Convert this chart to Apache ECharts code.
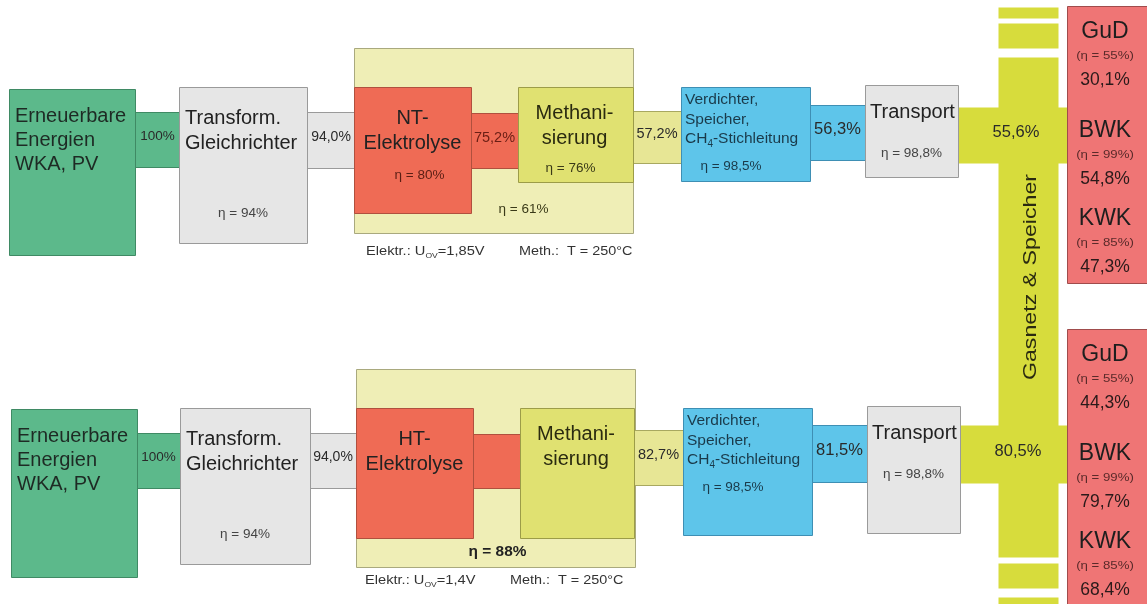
<!DOCTYPE html>
<html><head><meta charset="utf-8">
<script src="https://cdn.jsdelivr.net/npm/echarts@6/dist/echarts.min.js"></script>
<style>html,body{margin:0;padding:0;background:#fff}#c{width:1147px;height:604px}</style>
</head><body><div id="c"></div>
<script>
// ---------------- DATA ----------------
const stageNamesTop = ['Erneuerbare\nEnergien\nWKA, PV', 'Transform.\nGleichrichter', 'NT-\nElektrolyse', 'Methani-\nsierung', 'Verdichter,\nSpeicher,\nCH4-Stichleitung', 'Transport'];
const stageNamesBottom = ['Erneuerbare\nEnergien\nWKA, PV', 'Transform.\nGleichrichter', 'HT-\nElektrolyse', 'Methani-\nsierung', 'Verdichter,\nSpeicher,\nCH4-Stichleitung', 'Transport'];
const etaTop = [null, 94, 80, 76, 98.5, 98.8];
const etaBottom = [null, 94, null, null, 98.5, 98.8];
const flowTop = [100, 94.0, 75.2, 57.2, 56.3, 55.6];
const flowBottom = [100, 94.0, null, 82.7, 81.5, 80.5];
const combinedEta = [61, 88];
const condElektr = ['1,85V', '1,4V'];
const condMeth = ['250°C', '250°C'];
const storageLabel = 'Gasnetz & Speicher';
const useNames = ['GuD', 'BWK', 'KWK'];
const useEta = [55, 99, 85];
const useTop = [30.1, 54.8, 47.3];
const useBottom = [44.3, 79.7, 68.4];

// ---------------- LAYOUT (diagram geometry, px units on hidden axes) ----------------
const rows = [
  { boxes: [[9,89,135,255],[179,87,307,243],[354,87,471,213],[518,87,633,182],[681,87,810,181],[865,85,958,177]],
    conns: [[135,112,180,167],[307,112,355,168],[471,113,518,168],[633,111,681,163],[810,105,865,160],[958,107,1067,163]],
    outer: [354,48,633,233], use: [1067,6,1152,283], etaOff: -24,
    condX: [366, 519], condY: 252, flowX5: 1016 },
  { boxes: [[11,409,137,577],[180,408,310,564],[356,408,473,538],[520,408,634,538],[683,408,812,535],[867,406,960,533]],
    conns: [[137,433,180,488],[310,433,356,488],[473,434,520,488],[634,430,683,485],[812,425,867,482],[960,425,1067,483]],
    outer: [356,369,635,567], use: [1067,329,1152,612], etaOff: -15,
    condX: [365, 510], condY: 581, flowX5: 1018 }
];
const gasColumn = [[998,57,1058,557],[998,7,1058,18],[998,23,1058,48],[998,563,1058,588],[998,597,1058,612]];

// ---------------- STYLE ----------------
const FONT = '"Liberation Sans", Arial, Helvetica, sans-serif';
const stageFill = ['#5cb98b','#e6e6e6','#ef6b55','#e0e171','#5ec5ea','#e6e6e6'];
const stageStroke = ['#3f8a64','#9a9a9a','#b0503e','#9c9c48','#3e8fb4','#9a9a9a'];
const connFill = ['#5cb98b','#e6e6e6','#ef6b55','#e7e695','#5ec5ea','#d7dc3c'];
const connStroke = ['#3f8a64','#9a9a9a','#b0503e','#a8a860','#3e8fb4',null];
const gasFill = '#d7dc3c';
const useFill = '#ef7575', useStroke = '#a04c4c';
const outerFill = '#efeeb6', outerStroke = '#a9a97e';

function fmt(v) { return v === 100 ? '100%' : v.toFixed(1).replace('.', ',') + '%'; }

// ---------------- BUILD ITEMS ----------------
const rectItems = [];
const textItems = [];
function R(r, fill, stroke) { rectItems.push({ value: r.slice(), fill, stroke }); }
function T(x, y, text, o) { textItems.push({ value: [x, y], spec: Object.assign({ text, size: 13, color: '#222', align: 'center', weight: 'normal', sx: 1 }, o || {}) }); }

rows.forEach(row => R(row.outer, outerFill, outerStroke));
rows.forEach(row => row.conns.forEach((c, i) => R(c, connFill[i], connStroke[i])));
gasColumn.forEach(g => R(g, gasFill, null));
rows.forEach(row => row.boxes.forEach((b, i) => R(b, stageFill[i], stageStroke[i])));
rows.forEach(row => R(row.use, useFill, useStroke));

const ETA = 13.5;
rows.forEach((row, ri) => {
  const names = ri === 0 ? stageNamesTop : stageNamesBottom;
  const etas = ri === 0 ? etaTop : etaBottom;
  const flows = ri === 0 ? flowTop : flowBottom;
  const uses = ri === 0 ? useTop : useBottom;
  const B = row.boxes;
  const cx = b => (b[0] + b[2]) / 2;
  T(B[0][0] + 6, B[0][1] + 27, names[0], { size: 20, align: 'left', lh: 24, color: '#1e2a24' });
  T(B[1][0] + 6, B[1][1] + 31, names[1], { size: 20, align: 'left', lh: 25 });
  T(cx(B[1]), B[1][3] - 30, 'η = ' + etas[1] + '%', { size: ETA, color: '#444' });
  T(cx(B[2]), B[2][1] + 31, names[2], { size: 20, lh: 25 });
  if (etas[2] != null) T(cx(B[2]) + 7, B[2][1] + 88, 'η = ' + etas[2] + '%', { size: ETA, color: '#5a1e14' });
  T(cx(B[3]) - 1, B[3][1] + 26, names[3], { size: 20, lh: 25, color: '#2a2a10' });
  if (etas[3] != null) T(cx(B[3]) - 5, B[3][1] + 81, 'η = ' + etas[3] + '%', { size: ETA, color: '#3a3a18' });
  T(B[4][0] + 4, B[4][1] + 13, '{n|Verdichter,}\n{n|Speicher,}\n{n|CH}{s|4}{n|-Stichleitung}', { size: 15.5, align: 'left', lh: 19.5, color: '#1a3a4a', rich: true });
  T(B[4][0] + 50, B[4][1] + 79, 'η = ' + String(etas[4]).replace('.', ',') + '%', { size: ETA, color: '#1a3a4a' });
  T(B[5][0] + 5, B[5][1] + 27, names[5], { size: 20, align: 'left' });
  T(cx(B[5]), B[5][1] + 68, 'η = ' + String(etas[5]).replace('.', ',') + '%', { size: ETA, color: '#444' });
  const C = row.conns;
  const fsizes = [13.5, 14, 14.5, 14.5, 16.5, 16.5];
  flows.forEach((f, i) => {
    if (f == null) return;
    const x = i === 5 ? row.flowX5 : (C[i][0] + C[i][2]) / 2;
    const y = (C[i][1] + C[i][3]) / 2 - 3;
    T(x, y, fmt(f), { size: fsizes[i], color: i === 2 ? '#6a1e14' : '#2a2a2a' });
  });
  T((row.outer[0] + row.outer[2]) / 2 + (ri === 0 ? 30 : 2), row.outer[3] + row.etaOff, 'η = ' + combinedEta[ri] + '%',
    { size: ri === 0 ? ETA : 14, color: ri === 0 ? '#3a3a18' : '#222', weight: ri === 0 ? 'normal' : 'bold', sx: ri === 0 ? 1 : 1.1 });
  T(row.condX[0], row.condY, '{n|Elektr.: U}{s|OV}{n|=' + condElektr[ri] + '}', { size: 12, align: 'left', color: '#333', rich: true, sx: 1.22 });
  T(row.condX[1], row.condY, 'Meth.:  T = ' + condMeth[ri], { size: 12, align: 'left', color: '#333', sx: 1.2 });
  const U = row.use;
  const ux = 1105;
  const offs = [26, 125, 213];
  useNames.forEach((n, k) => {
    T(ux, U[1] + offs[k], n, { size: 23, color: '#1e1e1e' });
    T(ux, U[1] + offs[k] + 24, '(η = ' + useEta[k] + '%)', { size: 11, color: '#5a2a2a', sx: 1.2 });
    T(ux, U[1] + offs[k] + 48, fmt(uses[k]), { size: 17.5, color: '#2a1a1a' });
  });
});
T(1031, 277, storageLabel, { size: 19, color: '#2a2a10', rotate: true, sx: 1.22 });

// ---------------- CHART ----------------
const chart = echarts.init(document.getElementById('c'), null, { renderer: 'canvas' });
chart.setOption({
  backgroundColor: '#ffffff',
  animation: false,
  grid: { left: 0, right: 0, top: 0, bottom: 0 },
  xAxis: { type: 'value', min: 0, max: 1147, show: false },
  yAxis: { type: 'value', min: 0, max: 604, inverse: true, show: false },
  series: [
    {
      type: 'custom', clip: false,
      encode: { x: [0, 2], y: [1, 3] },
      data: rectItems.map(r => r.value),
      renderItem: (params, api) => {
        const it = rectItems[params.dataIndex];
        const p0 = api.coord([api.value(0), api.value(1)]);
        const p1 = api.coord([api.value(2), api.value(3)]);
        return {
          type: 'rect',
          shape: { x: Math.round(p0[0]) + 0.5, y: Math.round(p0[1]) + 0.5, width: Math.round(p1[0] - p0[0]), height: Math.round(p1[1] - p0[1]) },
          style: { fill: it.fill, stroke: it.stroke || null, lineWidth: it.stroke ? 1 : 0 }
        };
      }
    },
    {
      type: 'custom', clip: false,
      encode: { x: 0, y: 1 },
      data: textItems.map(t => t.value),
      renderItem: (params, api) => {
        const s = textItems[params.dataIndex].spec;
        const p = api.coord([api.value(0), api.value(1)]);
        const lh = s.lh || Math.round(s.size * 1.25);
        const style = {
          text: s.text, fill: s.color, fontSize: s.size, fontFamily: FONT, fontWeight: s.weight,
          align: s.align, verticalAlign: 'middle', lineHeight: lh
        };
        const nLines = s.text.split('\n').length;
        // y is the centre of the first line
        const dy = (nLines - 1) * lh / 2;
        if (s.rich) {
          style.rich = {
            n: { fontSize: s.size, fontFamily: FONT, fill: s.color, lineHeight: lh },
            s: { fontSize: Math.round(s.size * 0.62), fontFamily: FONT, fill: s.color, verticalAlign: 'bottom', lineHeight: lh }
          };
        }
        if (s.rotate) {
          return { type: 'text', x: p[0], y: p[1], rotation: Math.PI / 2, scaleX: s.sx, style };
        }
        return { type: 'text', x: p[0], y: p[1] + dy, scaleX: s.sx, style };
      }
    }
  ]
});
</script></body></html>
